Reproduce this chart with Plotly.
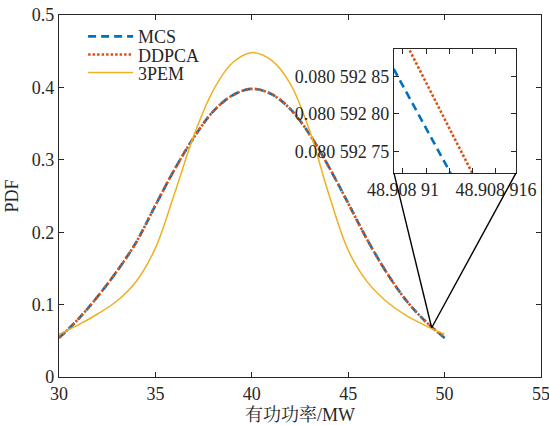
import plotly.graph_objects as go

# ---------------- data ----------------
x_mw = [30, 31, 32, 33, 34, 35, 36, 37, 38, 39, 40, 41, 42, 43, 44, 45, 46, 47, 48, 49, 50]
pdf_mcs = [0.054, 0.080, 0.111, 0.146, 0.186, 0.237, 0.287, 0.331, 0.367, 0.389, 0.398,
           0.391, 0.370, 0.335, 0.290, 0.240, 0.189, 0.144, 0.106, 0.077, 0.054]
pdf_ddpca = [0.054, 0.080, 0.111, 0.146, 0.186, 0.237, 0.287, 0.331, 0.367, 0.389, 0.398,
             0.391, 0.370, 0.335, 0.290, 0.240, 0.189, 0.144, 0.106, 0.077, 0.054]
pdf_3pem = [0.059, 0.072, 0.087, 0.105, 0.132, 0.178, 0.254, 0.334, 0.396, 0.434, 0.448,
            0.438, 0.405, 0.340, 0.252, 0.175, 0.131, 0.104, 0.085, 0.071, 0.059]

# inset (zoomed) data
inset_x_mcs = [48.9089094, 48.9089131]
inset_y_mcs = [0.08059286, 0.08059272]
inset_x_ddpca = [48.9089103, 48.9089145]
inset_y_ddpca = [0.08059289, 0.08059272]

x_ticks = [30, 35, 40, 45, 50, 55]
y_ticks = [0, 0.1, 0.2, 0.3, 0.4, 0.5]
inset_xticks = [48.90891, 48.9089115, 48.908913, 48.9089145, 48.908916]
inset_xticktext = ["48.908 91", "", "", "", "48.908 916"]
inset_yticks = [0.08059275, 0.0805928, 0.08059285]
inset_yticktext = ["0.080 592 75", "0.080 592 80", "0.080 592 85"]
zoom_point = [49.33, 0.068]

# ---------------- style ----------------
FONT = "Liberation Serif, Times New Roman, Noto Serif CJK SC, Noto Sans CJK SC, serif"
C_MCS = "#0072BD"
C_DD = "#D95319"
C_3P = "#EDB120"
AX = "#262626"
DASH = "8px,5px"
DOT = "2.5px,2px"

fig = go.Figure()
fig.add_trace(go.Scatter(x=x_mw, y=pdf_mcs, mode="lines", name="MCS",
                         line=dict(color=C_MCS, width=2.6, dash=DASH, shape="spline"),
                         legend="legend"))
fig.add_trace(go.Scatter(x=x_mw, y=pdf_ddpca, mode="lines", name="DDPCA",
                         line=dict(color=C_DD, width=2.6, dash=DOT, shape="spline"),
                         legend="legend2"))
fig.add_trace(go.Scatter(x=x_mw, y=pdf_3pem, mode="lines", name="3PEM",
                         line=dict(color=C_3P, width=1.5, shape="spline"),
                         legend="legend3"))
# inset traces
fig.add_trace(go.Scatter(x=inset_x_mcs, y=inset_y_mcs, mode="lines", showlegend=False,
                         line=dict(color=C_MCS, width=2.6, dash=DASH), xaxis="x2", yaxis="y2"))
fig.add_trace(go.Scatter(x=inset_x_ddpca, y=inset_y_ddpca, mode="lines", showlegend=False,
                         line=dict(color=C_DD, width=2.6, dash=DOT), xaxis="x2", yaxis="y2"))

inset_dom_x = [0.695, 0.948]
inset_dom_y = [0.563, 0.906]
xr = [30, 55]
yr = [0, 0.5]

axis_common = dict(showline=True, linecolor=AX, linewidth=1.3, mirror="ticks",
                   ticks="inside", ticklen=5, tickwidth=1.1, tickcolor=AX,
                   showgrid=False, zeroline=False, automargin=False,
                   ticklabeloverflow="allow",
                   tickfont=dict(family=FONT, size=18, color="#262626"))

leg_common = dict(font=dict(family=FONT, size=18, color="#262626"),
                  bgcolor="rgba(0,0,0,0)", borderwidth=0, xanchor="left", yanchor="middle",
                  itemwidth=45, itemclick=False)

fig.update_layout(
    width=549, height=425,
    margin=dict(l=59, r=8, t=15, b=48, autoexpand=False),
    paper_bgcolor="white", plot_bgcolor="white",
    font=dict(family=FONT, size=18, color="#262626"),
    xaxis=dict(range=xr, tickvals=x_ticks, domain=[0, 1],
               title=dict(text="有功功率/MW", font=dict(family=FONT, size=18), standoff=5),
               **axis_common),
    yaxis=dict(range=yr, tickvals=y_ticks, domain=[0, 1],
               title=dict(text="PDF", font=dict(family=FONT, size=18), standoff=8),
               **axis_common),
    xaxis2=dict(range=[48.90890942, 48.90891729], domain=inset_dom_x, anchor="y2",
                tickvals=inset_xticks, ticktext=inset_xticktext, **axis_common),
    yaxis2=dict(range=[0.0805927211, 0.0805928865], domain=inset_dom_y, anchor="x2",
                tickvals=inset_yticks, ticktext=inset_yticktext, **axis_common),
    legend=dict(x=0.05, y=0.94, **leg_common),
    legend2=dict(x=0.05, y=0.89, **leg_common),
    legend3=dict(x=0.05, y=0.84, **leg_common),
)

# connector lines from inset box corners to zoom point
cx0 = xr[0] + inset_dom_x[0] * (xr[1] - xr[0])
cx1 = xr[0] + inset_dom_x[1] * (xr[1] - xr[0])
cy = yr[0] + inset_dom_y[0] * (yr[1] - yr[0])
for cx in (cx0, cx1):
    fig.add_shape(type="line", xref="x", yref="y", x0=cx, y0=cy,
                  x1=zoom_point[0], y1=zoom_point[1],
                  line=dict(color="black", width=1.4), layer="above")

fig.write_html("out.html")
